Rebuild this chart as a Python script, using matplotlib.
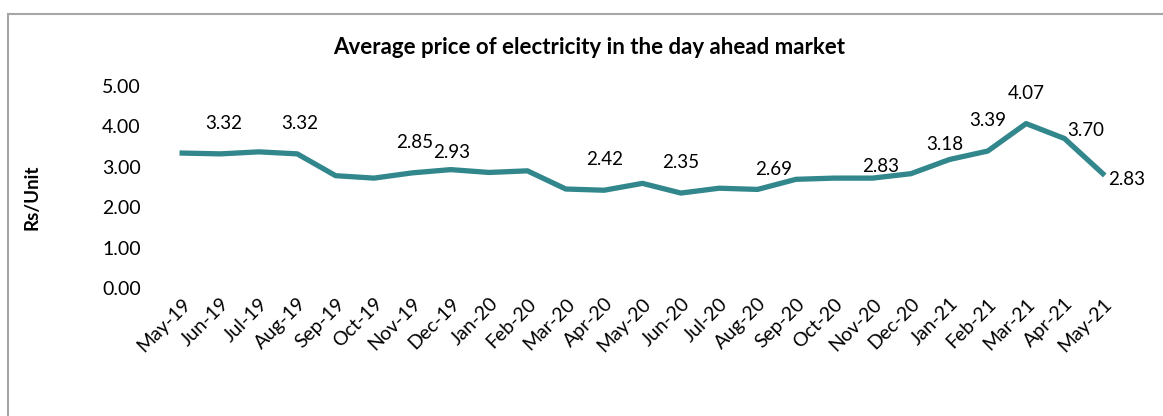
import matplotlib.pyplot as plt
from matplotlib.patches import Rectangle

plt.rcParams['font.family'] = ['Lato', 'DejaVu Sans']

# data
months = ["May-19", "Jun-19", "Jul-19", "Aug-19", "Sep-19", "Oct-19", "Nov-19",
          "Dec-19", "Jan-20", "Feb-20", "Mar-20", "Apr-20", "May-20", "Jun-20",
          "Jul-20", "Aug-20", "Sep-20", "Oct-20", "Nov-20", "Dec-20", "Jan-21",
          "Feb-21", "Mar-21", "Apr-21", "May-21"]
price = [3.34, 3.32, 3.37, 3.32, 2.78, 2.72, 2.85, 2.93, 2.86, 2.90, 2.45, 2.42,
         2.59, 2.35, 2.47, 2.44, 2.69, 2.72, 2.72, 2.83, 3.18, 3.39, 4.07, 3.70, 2.83]
labelled = [1, 3, 6, 7, 11, 13, 16, 19, 20, 21, 22, 23, 24]

# label offsets in points (dx, dy)
offsets = {1: (2, 22), 3: (2, 22), 6: (2, 22), 7: (1, 12), 11: (0, 22),
           13: (0, 22), 16: (-16, 7), 19: (-22, 5), 20: (-3, 11),
           21: (0, 22), 22: (0, 22), 23: (15, 6), 24: (17, -4)}

fig = plt.figure(figsize=(11.63, 4.16), dpi=100)
fig.patches.append(Rectangle((8 / 1163, -0.1), 1.2, 1 - 14 / 416 + 0.1,
                             transform=fig.transFigure, fill=False,
                             edgecolor='#a6a6a6', linewidth=1.5))

ax = fig.add_axes([163 / 1163, 1 - 288 / 416, (1122 - 163) / 1163, (288 - 86) / 416])
x = list(range(len(months)))
ax.plot(x, price, color='#31878c', linewidth=3.8, solid_joinstyle='round')

for i in labelled:
    dx, dy = offsets[i]
    ax.annotate(f"{price[i]:.2f}", (i, price[i]), xytext=(dx, dy),
                textcoords='offset points', ha='center', va='center',
                fontsize=13.5, color='black')

ax.set_xlim(-0.5, len(months) - 0.5)
ax.set_ylim(0, 5)
ax.set_yticks([0, 1, 2, 3, 4, 5])
ax.set_yticklabels([f"{v:.2f}" for v in [0, 1, 2, 3, 4, 5]], fontsize=14)
ax.set_xticks(x)
ax.set_xticklabels(months, rotation=45, ha='right', rotation_mode='anchor', fontsize=14)
ax.tick_params(length=0, axis='y', pad=16)
ax.tick_params(length=0, axis='x', pad=5)
for s in ax.spines.values():
    s.set_visible(False)

fig.text(32 / 1163, 1 - 197 / 416, "Rs/Unit", rotation=90, ha='center', va='center',
         fontsize=13.5, fontweight='bold')
fig.text(589 / 1163, 1 - 48 / 416, "Average price of electricity in the day ahead market",
         ha='center', va='center', fontsize=16, fontweight='bold')

fig.savefig("out.png", dpi=100)
